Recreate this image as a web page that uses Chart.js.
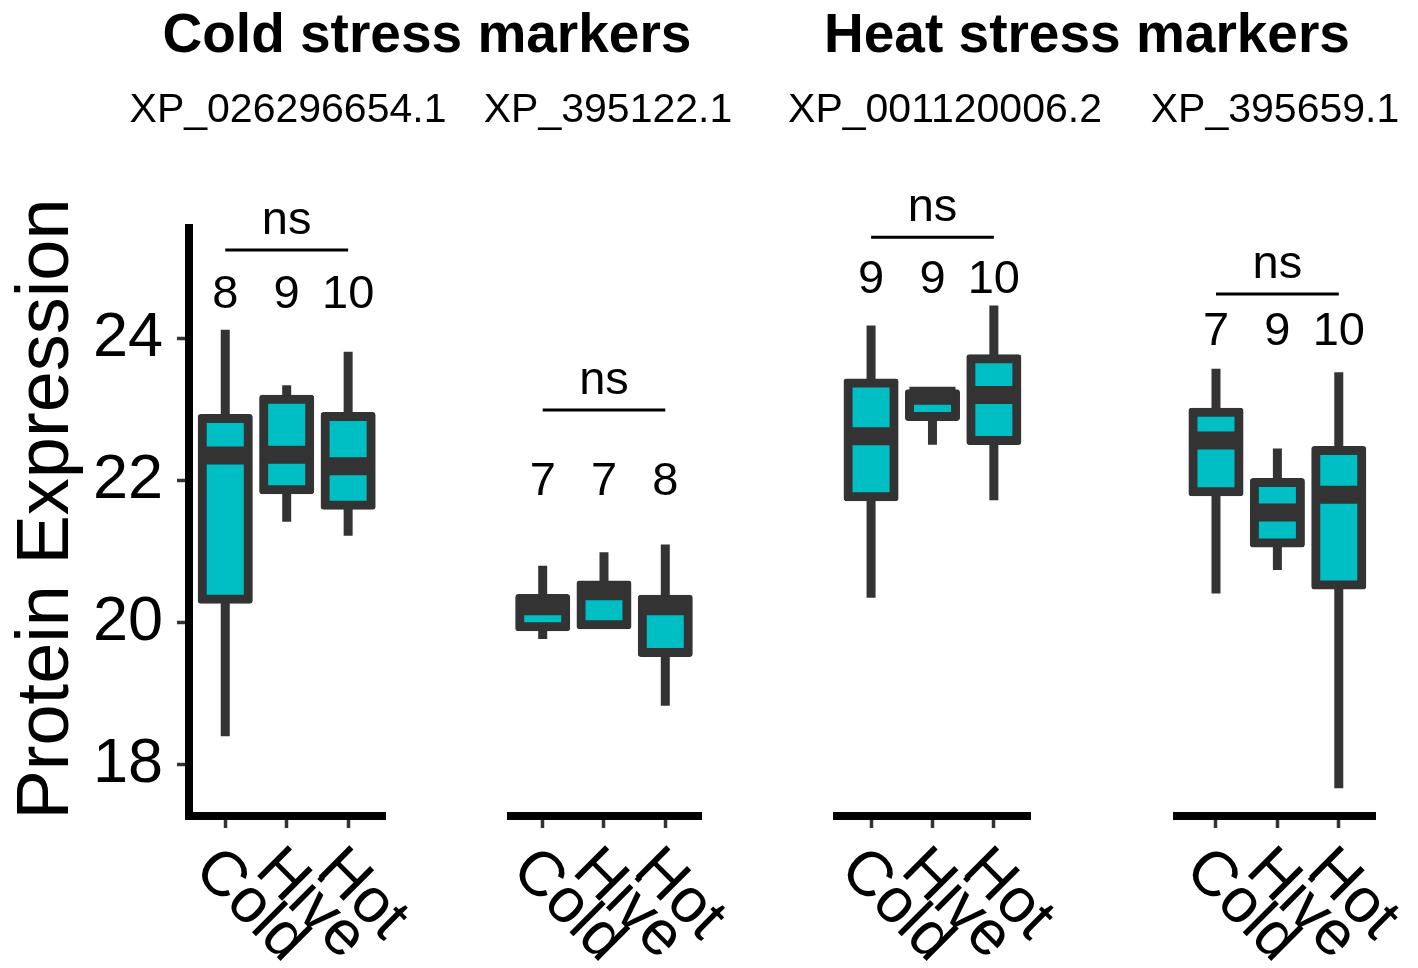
<!DOCTYPE html>
<html>
<head>
<meta charset="utf-8">
<script src="https://cdn.jsdelivr.net/npm/chart.js@4.4.1/dist/chart.umd.min.js"></script>
<style>
html,body{margin:0;padding:0;background:#ffffff;}
#wrap{position:relative;width:1418px;height:968px;overflow:hidden;background:#ffffff;}
#wrap canvas{position:absolute;left:0;top:0;}
</style>
</head>
<body>
<div id="wrap">
<canvas id="c0" width="1418" height="968"></canvas>
<canvas id="c1" width="1418" height="968"></canvas>
<canvas id="c2" width="1418" height="968"></canvas>
<canvas id="c3" width="1418" height="968"></canvas>
</div>
<script>
// ---------------- DATA ----------------
const categories = ['Cold', 'Hive', 'Hot'];
const proteins = ['XP_026296654.1', 'XP_395122.1', 'XP_001120006.2', 'XP_395659.1'];
const groupTitles = ['Cold stress markers', 'Heat stress markers'];
const yTicks = [18, 20, 22, 24];
const yLabel = 'Protein Expression';

// one row per protein, values for [Cold, Hive, Hot]
const whiskerLow  = [[18.40, 21.42, 21.22], [19.77, 19.95, 18.83], [20.35, 22.50, 21.72], [20.41, 20.74, 17.67]];
const q1          = [[20.33, 21.87, 21.65], [19.94, 19.97, 19.58], [21.77, 22.90, 22.56], [21.84, 21.12, 20.53]];
const median      = [[22.35, 22.36, 22.20], [20.23, 20.44, 20.23], [22.62, 23.19, 23.20], [22.56, 21.55, 21.80]];
const q3          = [[22.87, 23.14, 22.90], [20.34, 20.53, 20.33], [23.37, 23.22, 23.71], [22.96, 21.97, 22.42]];
const whiskerHigh = [[24.12, 23.34, 23.81], [20.80, 20.99, 21.10], [24.18, 23.22, 24.46], [23.57, 22.45, 23.52]];
const counts      = [[8, 9, 10], [7, 7, 8], [9, 9, 10], [7, 9, 10]];
const signif      = ['ns', 'ns', 'ns', 'ns'];

// ---------------- LAYOUT / STYLE ----------------
const W = 1418, H = 968;
const FONT = "'Liberation Sans', Arial, Helvetica, sans-serif";
const CYAN = '#00BFC4';
const DARK = '#333333';
const Y_MIN = 17.28, Y_MAX = 25.55;
const PLOT_TOP = 228, PLOT_BOTTOM = 816;
const BOX_WIDTH = 0.75;

const panelLayout = [
  { left: 189,   right: 385,   xmin: 0.41,  xmax: 3.60,  bracketY: 25.24, countY: 24.43 },
  { left: 510.7, right: 701.7, xmin: 0.478, xmax: 3.594, bracketY: 22.99, countY: 21.80 },
  { left: 837.3, right: 1030.7,xmin: 0.45,  xmax: 3.60,  bracketY: 25.42, countY: 24.64 },
  { left: 1176.7,right: 1375,  xmin: 0.36,  xmax: 3.59,  bracketY: 24.62, countY: 23.90 }
];
const textLayout = {
  titles: [{ x: 427, y: 52 }, { x: 1087, y: 52 }],
  subtitles: [{ x: 288, y: 122 }, { x: 608, y: 122 }, { x: 945, y: 122 }, { x: 1275, y: 122 }],
  yTitle: { x: 68, y: 509 }
};

function halfBoxPx(chart) {
  const s = chart.scales.x;
  return Math.abs(s.getPixelForValue(1 + BOX_WIDTH / 2) - s.getPixelForValue(1));
}

const annotatePlugin = {
  id: 'annotate',
  afterDraw(chart, args, opts) {
    const i = opts.panel;
    const L = panelLayout[i];
    const c = chart.ctx;
    const xs = chart.scales.x, ys = chart.scales.y;
    c.save();
    c.fillStyle = '#000000';

    // rotated category labels
    c.font = '63px ' + FONT;
    c.textAlign = 'left';
    c.textBaseline = 'alphabetic';
    categories.forEach((cat, j) => {
      const px = xs.getPixelForValue(j + 1);
      c.save();
      c.translate(px, xs.top + 23);
      c.rotate(Math.PI / 4);
      c.fillText(cat, 0, 47);
      c.restore();
    });

    // significance bracket
    const x1 = xs.getPixelForValue(1), x3 = xs.getPixelForValue(3);
    const by = ys.getPixelForValue(L.bracketY);
    c.strokeStyle = '#000000';
    c.lineWidth = 3;
    c.beginPath();
    c.moveTo(x1, by);
    c.lineTo(x3, by);
    c.stroke();
    c.font = '47px ' + FONT;
    c.textAlign = 'center';
    c.fillText(signif[i], (x1 + x3) / 2, by - 16.5);

    // sample counts
    const cy = ys.getPixelForValue(L.countY);
    counts[i].forEach((n, j) => {
      c.fillText(String(n), xs.getPixelForValue(j + 1), cy);
    });

    if (i === 0) {
      c.font = 'bold 55px ' + FONT;
      c.textAlign = 'center';
      groupTitles.forEach((t, k) => c.fillText(t, textLayout.titles[k].x, textLayout.titles[k].y));
      c.font = '41px ' + FONT;
      proteins.forEach((p, k) => c.fillText(p, textLayout.subtitles[k].x, textLayout.subtitles[k].y));
      c.save();
      c.translate(textLayout.yTitle.x, textLayout.yTitle.y);
      c.rotate(-Math.PI / 2);
      c.font = '74px ' + FONT;
      c.textAlign = 'center';
      c.fillText(yLabel, 0, 0);
      c.restore();
    }
    c.restore();
  }
};

function makeChart(i) {
  const L = panelLayout[i];
  const xs = [1, 2, 3];
  const first = i === 0;
  return new Chart(document.getElementById('c' + i), {
    type: 'bar',
    data: {
      datasets: [
        {
          type: 'scatter',
          data: xs.map((x, j) => ({ x: x, y: median[i][j] })),
          pointStyle: 'line',
          pointRadius: ctx => halfBoxPx(ctx.chart),
          pointHoverRadius: ctx => halfBoxPx(ctx.chart),
          pointBorderWidth: 18,
          pointHoverBorderWidth: 18,
          pointBorderColor: DARK,
          pointBackgroundColor: DARK,
          clip: false
        },
        {
          data: xs.map((x, j) => ({ x: x, y: [q1[i][j], q3[i][j]] })),
          backgroundColor: CYAN,
          borderColor: DARK,
          borderWidth: 9,
          borderSkipped: false,
          borderRadius: 3,
          inflateAmount: 4.5,
          barPercentage: BOX_WIDTH,
          categoryPercentage: 1,
          grouped: false
        },
        {
          data: xs.map((x, j) => ({ x: x, y: [whiskerLow[i][j], whiskerHigh[i][j]] })),
          backgroundColor: DARK,
          borderWidth: 0,
          barThickness: 9,
          inflateAmount: 0,
          grouped: false
        }
      ]
    },
    options: {
      responsive: false,
      animation: false,
      events: [],
      layout: {
        padding: {
          left: first ? 0 : L.left,
          right: W - L.right,
          top: PLOT_TOP,
          bottom: 0
        }
      },
      plugins: {
        legend: { display: false },
        tooltip: { enabled: false },
        annotate: { panel: i }
      },
      scales: {
        x: {
          type: 'linear',
          min: L.xmin,
          max: L.xmax,
          offset: false,
          afterBuildTicks: s => { s.ticks = xs.map(v => ({ value: v })); },
          afterFit: s => { s.height = H - PLOT_BOTTOM; },
          ticks: { display: false },
          grid: {
            display: true, offset: false, drawOnChartArea: false, drawTicks: true,
            tickLength: 12, tickWidth: 3.5, tickColor: DARK, color: DARK
          },
          border: { display: true, color: '#000000', width: 8 }
        },
        y: {
          type: 'linear',
          min: Y_MIN,
          max: Y_MAX,
          display: first,
          afterBuildTicks: s => { s.ticks = yTicks.map(v => ({ value: v })); },
          afterFit: s => { s.width = first ? L.left : 0; },
          ticks: { font: { family: FONT, size: 63 }, color: '#000000', padding: 14 },
          grid: {
            display: true, drawOnChartArea: false, drawTicks: true,
            tickLength: 12, tickWidth: 3.5, tickColor: DARK, color: DARK
          },
          border: { display: true, color: '#000000', width: 8 }
        }
      }
    },
    plugins: [annotatePlugin]
  });
}

[0, 1, 2, 3].forEach(makeChart);
</script>
</body>
</html>
